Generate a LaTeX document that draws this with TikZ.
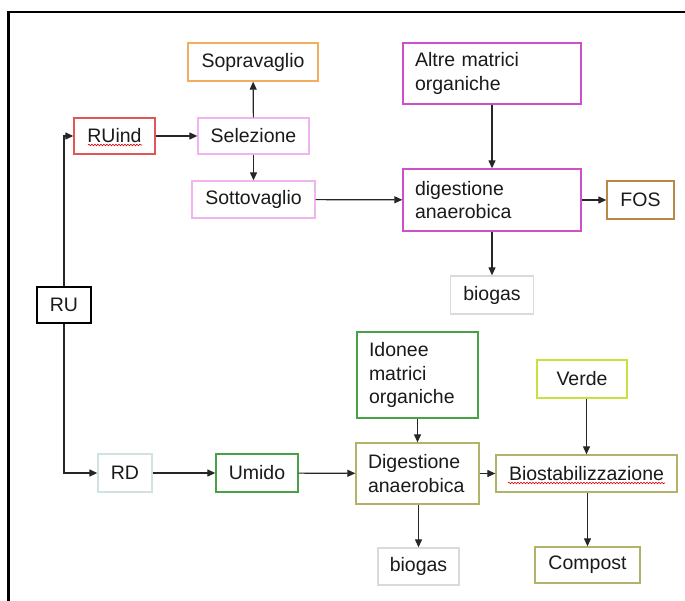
\documentclass[tikz,border=0pt]{standalone}
\usepackage{fontspec}
\setmainfont{Liberation Sans}
\usetikzlibrary{arrows.meta,calc,decorations.pathmorphing}
\definecolor{cOrange}{HTML}{F2AE5E}
\definecolor{cMagenta}{HTML}{CC4FCC}
\definecolor{cRed}{HTML}{E05555}
\definecolor{cPink}{HTML}{F0B4F0}
\definecolor{cBrown}{HTML}{B88848}
\definecolor{cGrey}{HTML}{DADADA}
\definecolor{cCyan}{HTML}{D2E2E2}
\definecolor{cGreen}{HTML}{48A048}
\definecolor{cOlive}{HTML}{B2B268}
\definecolor{cYellowGreen}{HTML}{C8E040}
\definecolor{cTxt}{HTML}{1A1A1A}
\tikzset{
  box/.style={draw, line width=1.3pt, fill=white, inner sep=0pt, text=cTxt,
    font=\fontsize{19.5}{23.5}\selectfont},
  lbox/.style={box, align=left, inner xsep=12pt},
  arr/.style={draw=black!85, line width=1.2pt, -{Triangle[length=8pt,width=7pt]}},
  squig/.style={draw=red!85!black, line width=0.6pt,
    decorate, decoration={snake, segment length=3pt, amplitude=0.8pt}}
}
\begin{document}
\begin{tikzpicture}[x=1pt,y=-1pt]
\useasboundingbox (0,0) rectangle (685,601);
% frame
\draw[line width=2.5pt] (8.5,601) -- (8.5,12) -- (685,12);
% nodes
\node[box, draw=cOrange, minimum width=130pt, minimum height=38pt] (sopra) at (253,62) {Sopravaglio};
\node[lbox, draw=cMagenta, text width=154pt, minimum height=61pt] (altre) at (492,73.5) {Altre matrici\\organiche};
\node[box, draw=cRed, minimum width=81pt, minimum height=36pt] (ruind) at (114.5,136) {RUind};
\node[box, draw=cPink, minimum width=111pt, minimum height=36pt] (sel) at (253.5,136) {Selezione};
\node[box, draw=cPink, minimum width=123pt, minimum height=37pt] (sotto) at (253.5,199.5) {Sottovaglio};
\node[box, draw=black, minimum width=54pt, minimum height=36pt] (ru) at (64,305) {RU};
\node[lbox, draw=cMagenta, text width=154pt, minimum height=62pt] (dig1) at (492,200) {digestione\\anaerobica};
\node[box, draw=cBrown, minimum width=67pt, minimum height=38pt] (fos) at (640.5,200) {FOS};
\node[box, draw=cGrey, minimum width=83pt, minimum height=38pt] (bio1) at (492,295) {biogas};
\node[box, draw=cCyan, minimum width=54pt, minimum height=38pt] (rd) at (125,473) {RD};
\node[box, draw=cGreen, minimum width=82pt, minimum height=38pt] (umido) at (257,473) {Umido};
\node[lbox, draw=cGreen, text width=97pt, minimum height=86pt] (idonee) at (417.5,375) {Idonee\\matrici\\organiche};
\node[lbox, draw=cOlive, text width=99pt, minimum height=61pt] (dig2) at (417.5,473.5) {Digestione\\anaerobica};
\node[box, draw=cYellowGreen, minimum width=90pt, minimum height=38pt] (verde) at (582,379) {Verde};
\node[box, draw=cOlive, minimum width=181pt, minimum height=37pt] (biostab) at (586.5,473.5) {Biostabilizzazione};
\node[box, draw=cGrey, minimum width=81pt, minimum height=37pt] (bio2) at (418.5,566.5) {biogas};
\node[box, draw=cOlive, minimum width=105pt, minimum height=36pt] (compost) at (587.5,565) {Compost};
% spell-check squiggles
\draw[squig] ($(ruind.center)+(-26.5,9)$) -- ($(ruind.center)+(27.5,9)$);
\draw[squig] ($(biostab.center)+(-78.5,9.5)$) -- ($(biostab.center)+(78.5,9.5)$);
% connectors
\draw[arr] (ru.north) |- (ruind.west);
\draw[arr] (ru.south) |- (rd.west);
\draw[arr] (ruind) -- (sel);
\draw[arr] (sel) -- (sopra);
\draw[arr] (sel) -- (sotto);
\draw[arr] (sotto) -- (dig1);
\draw[arr] (altre) -- (dig1);
\draw[arr] (dig1) -- (fos);
\draw[arr] (dig1) -- (bio1);
\draw[arr] (rd) -- (umido);
\draw[arr] (umido) -- (dig2);
\draw[arr] (idonee) -- (dig2);
\draw[arr] (dig2.south -| bio2) -- (bio2.north);
\draw[arr] (dig2) -- (biostab);
\draw[arr] (verde.south -| biostab) -- (biostab.north);
\draw[arr] (biostab.south -| compost) -- (compost.north);
\end{tikzpicture}
\end{document}
